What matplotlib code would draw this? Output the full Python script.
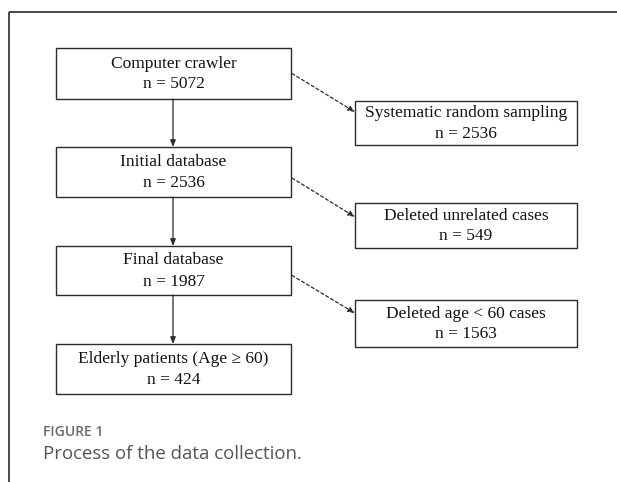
import matplotlib
matplotlib.use("Agg")
import matplotlib.pyplot as plt
from matplotlib.patches import Rectangle, FancyArrowPatch

# flowchart content
main_steps = ["Computer crawler", "Initial database", "Final database",
              "Elderly patients (Age \u2265 60)"]
main_counts = [5072, 2536, 1987, 424]
side_steps = ["Systematic random sampling", "Deleted unrelated cases",
              "Deleted age < 60 cases"]
side_counts = [2536, 549, 1563]
caption_label = "FIGURE 1"
caption_text = "Process of the data collection."

# layout in pixels (x0, x1, y0, y1)
main_boxes = [(56, 291, 48, 99), (56, 291, 147, 197),
              (56, 291, 246, 295), (56, 291, 344, 394)]
side_boxes = [(355, 577, 101, 145), (355, 577, 203, 248),
              (355, 577, 300, 347)]
# where the dashed links leave / meet the boxes (fraction of box height)
link_from = [0.5, 0.62, 0.6]
link_to = [0.25, 0.31, 0.28]
edge = "#2b2b2b"
serif = ["Liberation Serif", "DejaVu Serif"]

fig = plt.figure(figsize=(6.17, 4.82), dpi=100)
ax = fig.add_axes([0, 0, 1, 1])
ax.set_xlim(0, 617)
ax.set_ylim(482, 0)
ax.axis("off")

# outer frame (top and left edges)
ax.plot([8.5, 617], [12, 12], color="#3a3a3a", lw=1.3, solid_capstyle="butt")
ax.plot([8.5, 8.5], [12, 482], color="#3a3a3a", lw=1.3, solid_capstyle="butt")


def draw_box(b, title, n):
    x0, x1, y0, y1 = b
    ax.add_patch(Rectangle((x0, y0), x1 - x0, y1 - y0, fill=False,
                           ec=edge, lw=1.0))
    cx = (x0 + x1) / 2
    cy = (y0 + y1) / 2
    ax.text(cx, cy - 10, title, ha="center", va="center",
            family=serif, fontsize=12.5, color="#111111")
    ax.text(cx, cy + 11, "n = %d" % n, ha="center", va="center",
            family=serif, fontsize=12.5, color="#111111")


for b, t, n in zip(main_boxes, main_steps, main_counts):
    draw_box(b, t, n)
for b, t, n in zip(side_boxes, side_steps, side_counts):
    draw_box(b, t, n)

# solid arrows down the main column
for a, b in zip(main_boxes[:-1], main_boxes[1:]):
    cx = 173
    ax.add_patch(FancyArrowPatch((cx, a[3]), (cx, b[2]),
                                 arrowstyle="-|>,head_length=4,head_width=1.6",
                                 color=edge, lw=0.9, shrinkA=0, shrinkB=0))

# dashed arrows to the side boxes
for a, s, f0, f1 in zip(main_boxes[:-1], side_boxes, link_from, link_to):
    ys = a[2] + f0 * (a[3] - a[2])
    ye = s[2] + f1 * (s[3] - s[2])
    ax.add_patch(FancyArrowPatch((a[1] + 1, ys), (s[0], ye),
                                 arrowstyle="-|>,head_length=4,head_width=1.6",
                                 color=edge, lw=0.9, linestyle=(0, (2.5, 2)),
                                 shrinkA=0, shrinkB=0))

ax.text(43, 432, caption_label, ha="left", va="center",
        family=["Open Sans", "DejaVu Sans"], fontweight="semibold",
        fontsize=10, color="#6a6a6a")
ax.text(43, 454, caption_text, ha="left", va="center",
        family=["Open Sans", "DejaVu Sans"], fontsize=13.4, color="#555555")

fig.savefig("out.png", dpi=100)
